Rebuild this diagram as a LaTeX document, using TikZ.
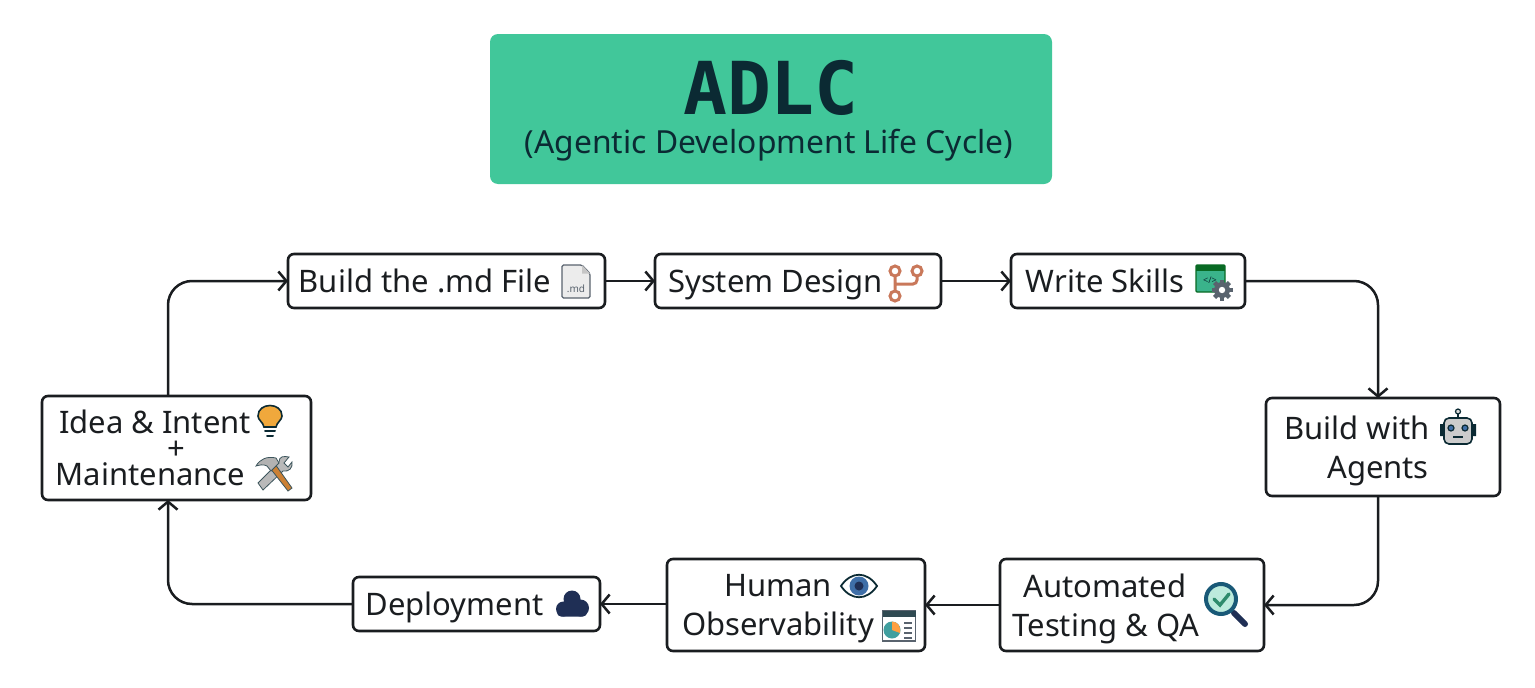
\documentclass[tikz,border=0pt]{standalone}
\usepackage{fontspec}
\setmainfont{Noto Sans}
\newfontfamily\titlefont{DejaVu Sans Mono}
\usepackage{tikz}
\usetikzlibrary{positioning,arrows.meta}

\definecolor{titlegreen}{HTML}{41C79A}
\definecolor{titleink}{HTML}{0B2A33}
\definecolor{boxink}{HTML}{1A1D20}
\definecolor{iconnavy}{HTML}{1F2F55}
\definecolor{icongrey}{HTML}{59636E}
\definecolor{branchred}{HTML}{C9785A}
\definecolor{bulbamber}{HTML}{F0A83C}
\definecolor{irisblue}{HTML}{3F6FA8}

\newcommand{\pad}[1]{\hspace*{#1pt}}

\tikzset{
    block/.style={draw=boxink, line width=2.6pt, rounded corners=6pt, outer sep=0pt,
        inner sep=0pt, align=center, text=boxink, text depth=0pt,
        font=\fontsize{31}{39}\selectfont},
    link/.style={draw=boxink, line width=2.5pt, rounded corners=24pt,
        -{Straight Barb[length=8pt,width=19pt]}},
    mdicon/.pic={
        \draw[draw=icongrey, fill=gray!15, line width=1.2pt, rounded corners=1.5pt]
            (-14,-16.5) -- (6,-16.5) -- (14,-8) -- (14,16.5) -- (-14,16.5) -- cycle;
        \fill[gray!45] (6,-16.5) -- (14,-8) -- (6,-8) -- cycle;
        \node[font=\fontsize{10}{10}\selectfont\bfseries, text=icongrey, inner sep=0pt] (tag) at (0,7) {.md};
    },
    branchicon/.pic={
        \draw[draw=branchred, line width=3pt]
            (-11,-12) circle (5pt) (11,-12) circle (5pt) (-11,13) circle (5pt)
            (-11,-7) -- (-11,8)
            [rounded corners=4pt] (11,-7) -- (11,1) -- (-11,1);
    },
    gearicon/.pic={
        \foreach \a in {0,45,...,315} {
            \fill[icongrey, rotate=\a] (-2.2,-10.5) rectangle (2.2,0);
        }
        \fill[icongrey] (0,0) circle (8pt);
        \fill[white] (0,0) circle (3.2pt);
    },
    skillicon/.pic={
        \draw[draw=titleink!70!green, fill=titlegreen!90!black, line width=1.2pt, rounded corners=1pt]
            (-18,-17) rectangle (11,10);
        \fill[titleink!70!green] (-18,-17) rectangle (11,-11);
        \node[font=\fontsize{9}{9}\selectfont, text=titleink, inner sep=0pt] (code) at (-4,-2) {</>};
        \pic at (8,8) {gearicon};
    },
    bulbicon/.pic={
        \draw[draw=titleink, fill=bulbamber, line width=1.6pt]
            (-6,5) .. controls (-7,0) and (-12,-2) .. (-12,-6)
            .. controls (-12,-20) and (12,-20) .. (12,-6)
            .. controls (12,-2) and (7,0) .. (6,5) -- cycle;
        \draw[titleink, line width=2pt, line cap=round] (-5,9) -- (5,9) (-3,14) -- (3,14);
    },
    toolicon/.pic={
        \draw[draw=titleink!80, fill=gray!55, line width=.8pt]
            (-16,9) -- (5,-12) .. controls (5,-18) and (10,-18) .. (15,-17) -- (10,-11) -- (14,-7) -- (18,-12)
            .. controls (19,-6) and (15,-2) .. (9,-3) -- (-11,16) -- cycle;
        \draw[draw=titleink!80, fill=brown!80!orange, line width=.8pt]
            (-4,-6) -- (1,-10) -- (18,14) -- (14,17) -- cycle;
        \draw[draw=titleink!80, fill=gray!60, line width=.8pt]
            (-18,-8) .. controls (-14,-15) and (-7,-18) .. (2,-16) -- (5,-11) -- (-3,-3) -- (-7,-8)
            .. controls (-11,-10) and (-14,-9) .. (-18,-8) -- cycle;
    },
    roboticon/.pic={
        \draw[titleink, line width=1.2pt] (0,-9) -- (0,-14);
        \draw[titleink, fill=gray!30, line width=1.2pt] (0,-15.5) circle (2.5pt);
        \fill[titleink] (-18,-3) rectangle (-13,9) (13,-3) rectangle (18,9);
        \draw[draw=titleink, fill=gray!40, line width=1.6pt, rounded corners=5pt]
            (-14,-9) rectangle (14,17);
        \draw[draw=titleink, fill=irisblue, line width=1.2pt]
            (-7,1) circle (3pt) (7,1) circle (3pt);
        \draw[titleink, line width=1.2pt] (-5,10) -- (5,10);
    },
    loupeicon/.pic={
        \draw[iconnavy, line width=6pt, line cap=round] (8,8) -- (19,19);
        \draw[draw=iconnavy!80!cyan, fill=titlegreen!35, line width=4pt] (-5,-6) circle (15pt);
        \draw[draw=titlegreen!70!black, line width=3.4pt, line cap=round]
            (-12,-6) -- (-6,0) -- (3,-11);
    },
    eyeicon/.pic={
        \draw[draw=titleink, fill=white, line width=1.8pt]
            (-18,0) .. controls (-8,-15) and (8,-15) .. (18,0)
            .. controls (8,15) and (-8,15) .. (-18,0) -- cycle;
        \fill[irisblue] (0,0) circle (9.5pt);
        \fill[iconnavy] (0,0) circle (4.5pt);
    },
    dashicon/.pic={
        \draw[draw=icongrey, fill=white, line width=1.2pt] (-16.5,-15) rectangle (16.5,15);
        \fill[titleink!85] (-16.5,-15) rectangle (16.5,-9);
        \fill[teal!75] (-7,4) circle (8.5pt);
        \fill[orange!75] (-7,4) -- (-7,-4.5) .. controls (-1,-4) and (2,0) .. (1,7) -- cycle;
        \draw[icongrey, line width=1.2pt] (5,-3) -- (13,-3) (5,2) -- (13,2) (5,7) -- (13,7) (5,12) -- (13,12);
    },
    cloudicon/.pic={
        \fill[iconnavy] (0,-5) circle (8.5pt) (-8.5,5) circle (7.5pt) (8.5,4) circle (8.5pt);
        \fill[iconnavy, rounded corners=4pt] (-15,3) rectangle (15,12.5);
    }
}

\begin{document}
\begin{tikzpicture}[x=1pt,y=-1pt]

\useasboundingbox (0,0) rectangle (1535,688);

% header
\node[fill=titlegreen,
    rounded corners=8pt,
    minimum width=562pt,
    minimum height=150pt,
    inner sep=0pt
] (title) at (771,109) {};
\node[font=\titlefont\bfseries\fontsize{73}{73}\selectfont,
    text=titleink,
    inner sep=0pt
] (acronym) at (771,88) { ADLC };
\node[font=\fontsize{31.8}{32}\selectfont,
    text=titleink,
    inner sep=0pt
] (longname) at (769,145) { (Agentic Development Life Cycle) };

% upper row
\node[block,
    minimum width=317pt,
    minimum height=54pt
] (mdfile) at (446.5,281) {Build the .md File\pad{43}};

\node[block,
    right=50pt of mdfile,
    minimum width=286pt,
    minimum height=54pt
] (design) {System Design\pad{45}};

\node[block,
    right=70pt of design,
    minimum width=234pt,
    minimum height=54pt
] (skills) {Write Skills\pad{46}};

\node[block,
    minimum width=234pt,
    minimum height=98pt
] (agents) at (1383,447) {Build with\pad{52}\\Agents\pad{10}};

% lower row
\node[block,
    minimum width=264pt,
    minimum height=92pt
] (testing) at (1132,605) {Automated\pad{54}\\Testing \& QA\pad{52}};

\node[block,
    left=75pt of testing,
    minimum width=258pt,
    minimum height=92pt
] (observe) {Human\pad{36}\\Observability\pad{36}};

\node[block,
    minimum width=247pt,
    minimum height=54pt
] (deploy) at (476.5,604) {Deployment\pad{44}};

\node[block,
    minimum width=269pt,
    minimum height=104pt
] (idea) at (176.5,448) {Idea \& Intent\pad{43}\\[-13pt]+\pad{21}\\[-13pt]Maintenance\pad{52}};

% icons
\pic at (576,281.5) {mdicon};
\pic at (906,283) {branchicon};
\pic at (1214,282) {skillicon};
\pic at (270,422) {bulbicon};
\pic at (274,474) {toolicon};
\pic at (1458,427) {roboticon};
\pic at (1226,605) {loupeicon};
\pic at (859,586) {eyeicon};
\pic at (899,626) {dashicon};
\pic at (572,604) {cloudicon};

% turning points of the outer loop
\coordinate (leftturn) at (168,281);
\coordinate (rightturn) at (1378,281);

\draw[link] (leftturn |- idea.north) |- (mdfile.west);
\draw[link] (mdfile.east) -- (design.west);
\draw[link] (design.east) -- (skills.west);
\draw[link] (skills.east) -| (rightturn |- agents.north);
\draw[link] (rightturn |- agents.south) |- (testing.east);
\draw[link] (testing.west) -- (observe.east);
\draw[link] (observe.west |- deploy.east) -- (deploy.east);
\draw[link] (deploy.west) -| (leftturn |- idea.south);

\end{tikzpicture}
\end{document}
